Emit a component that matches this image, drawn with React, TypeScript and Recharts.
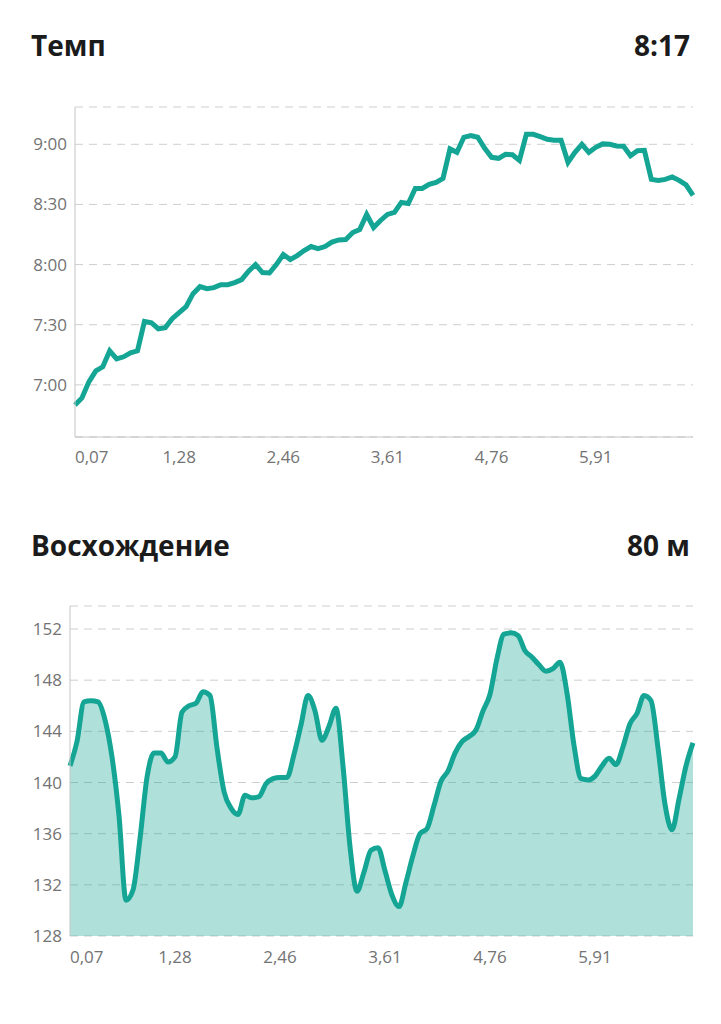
import React from 'react'
import { LineChart, Line, AreaChart, Area, XAxis, YAxis, CartesianGrid } from 'recharts'

// pace in seconds per km, one point per sample index
const paceSec = [
  410, 413.5, 421.5, 427, 429, 437, 433, 434, 436, 437,
  451.7, 451, 448, 448.5, 453, 456, 459, 465.5, 469, 468,
  468.5, 470, 470, 471, 472.5, 476.7, 480, 476, 475.8, 480,
  485, 482.5, 484.5, 487, 489, 488, 489, 491.2, 492.3, 492.5,
  496, 497.5, 505, 498.5, 502, 505, 506, 511, 510.5, 518,
  518, 520, 521, 523, 537.7, 536, 543.5, 544.4, 543.5, 538,
  533.5, 533, 535, 534.8, 532, 545, 545, 543.8, 542.5, 542,
  542, 531, 536, 540, 536, 538.5, 540.2, 540, 539.2, 539,
  534.3, 536.8, 537, 522.5, 522, 522.5, 523.7, 522, 519.8, 514.5,
]

// elevation in metres, same sample index
const elevation = [
  141.3, 143.2, 146.3, 146.4, 146.3, 144.9, 142.0, 137.4, 130.8, 131.6,
  135.6, 140.4, 142.3, 142.3, 141.6, 142.0, 145.5, 146.0, 146.2, 147.1,
  146.8, 142.7, 139.3, 138.0, 137.5, 139.0, 138.8, 138.9, 139.9, 140.3,
  140.4, 140.4, 142.2, 144.5, 146.8, 145.6, 143.3, 144.4, 145.8, 141.3,
  135.0, 131.5, 133.0, 134.7, 134.9, 133.1, 131.2, 130.3, 132.2, 134.3,
  136.0, 136.4, 138.2, 140.1, 140.9, 142.3, 143.2, 143.6, 144.1, 145.6,
  146.9, 149.7, 151.6, 151.7, 151.5, 150.3, 149.8, 149.2, 148.7, 148.9,
  149.4, 147.0, 142.9, 140.3, 140.2, 140.5, 141.3, 141.9, 141.4, 142.8,
  144.6, 145.4, 146.8, 146.4, 142.7, 138.3, 136.3, 138.7, 141.3, 143.1,
]

const kmLabels = ['0,07', '1,28', '2,46', '3,61', '4,76', '5,91']
const TICK_STEP = 15
const paceTicks = [420, 450, 480, 510, 540]
const elevTicks = [128, 132, 136, 140, 144, 148, 152]

const paceData = paceSec.map((v, i) => ({ i, pace: v }))
const elevData = elevation.map((v, i) => ({ i, elev: v }))
const xTicks = kmLabels.map((_, k) => k * TICK_STEP)
const lastIndex = paceSec.length - 1

const TEAL = '#14a594'
const GRID = '#cfcfcf'
const AXIS = '#c4c4c4'
const LABEL = '#737373'
const FONT = '"Open Sans", "Noto Sans", sans-serif'

const fmtPace = (v: number) => `${Math.floor(v / 60)}:${String(Math.round(v % 60)).padStart(2, '0')}`

const KmTick = (props: any) => {
  const { x, y, payload } = props
  const k = Math.round(payload.value / TICK_STEP)
  return (
    <text x={x} y={y} dy="0.71em" textAnchor={k === 0 ? 'start' : 'middle'} fill={LABEL} fontSize={17} fontFamily={FONT}>
      {kmLabels[k]}
    </text>
  )
}

const titleStyle: React.CSSProperties = {
  position: 'absolute',
  left: 31,
  right: 31,
  height: 28,
  display: 'flex',
  justifyContent: 'space-between',
  fontFamily: FONT,
  fontWeight: 700,
  fontSize: 28,
  lineHeight: '28px',
  color: '#1b1b1b',
}

export default function App() {
  return (
    <div style={{ position: 'absolute', left: 0, top: 0, width: 721, height: 1024, background: '#fff' }}>
      <div style={{ ...titleStyle, top: 31 }}>
        <span>Темп</span>
        <span>8:17</span>
      </div>

      <div style={{ position: 'absolute', left: 0, top: 100 }}>
        <LineChart width={721} height={380} data={paceData} margin={{ top: 7, right: 28, left: 0, bottom: 13 }}>
          <CartesianGrid vertical={false} stroke={GRID} strokeDasharray="8 6" />
          <XAxis
            dataKey="i"
            type="number"
            domain={[0, lastIndex]}
            ticks={xTicks}
            interval={0}
            height={30}
            tickLine={false}
            tickMargin={8}
            axisLine={{ stroke: AXIS }}
            tick={<KmTick />}
          />
          <YAxis
            type="number"
            domain={[394, 558.6]}
            ticks={paceTicks}
            allowDataOverflow
            width={75}
            tickLine={false}
            axisLine={{ stroke: AXIS }}
            tickFormatter={fmtPace}
            tick={{ fill: LABEL, fontSize: 17, fontFamily: FONT }}
          />
          <Line type="linear" dataKey="pace" stroke={TEAL} strokeWidth={5} dot={false} isAnimationActive={false} />
        </LineChart>
      </div>

      <div style={{ ...titleStyle, top: 531 }}>
        <span>Восхождение</span>
        <span>80 м</span>
      </div>

      <div style={{ position: 'absolute', left: 0, top: 590 }}>
        <AreaChart width={721} height={380} data={elevData} margin={{ top: 16, right: 28, left: 0, bottom: 4 }}>
          <CartesianGrid vertical={false} stroke={GRID} strokeDasharray="8 6" />
          <XAxis
            dataKey="i"
            type="number"
            domain={[0, lastIndex]}
            ticks={xTicks}
            interval={0}
            height={30}
            tickLine={false}
            tickMargin={9}
            axisLine={false}
            tick={<KmTick />}
          />
          <YAxis
            type="number"
            domain={[128, 153.8]}
            ticks={elevTicks}
            allowDataOverflow
            width={70}
            tickLine={false}
            axisLine={{ stroke: AXIS }}
            tick={{ fill: LABEL, fontSize: 17, fontFamily: FONT }}
          />
          <Area
            type="monotone"
            dataKey="elev"
            stroke={TEAL}
            strokeWidth={5}
            fill={TEAL}
            fillOpacity={0.34}
            dot={false}
            isAnimationActive={false}
          />
        </AreaChart>
      </div>
    </div>
  )
}
